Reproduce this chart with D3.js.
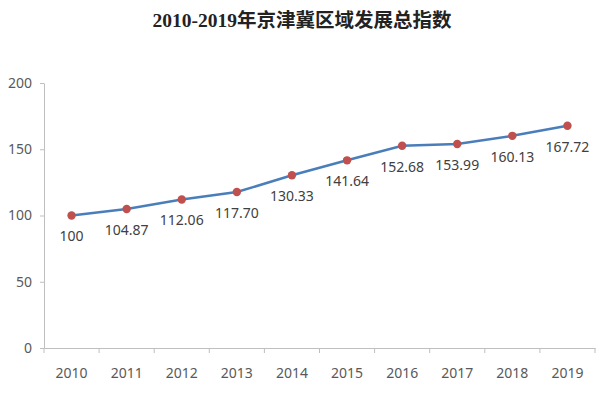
<!DOCTYPE html>
<html>
<head>
<meta charset="utf-8">
<script src="https://cdn.jsdelivr.net/npm/d3@7"></script>
<style>
  body { margin: 0; background: #fff; }
  svg { display: block; }
</style>
</head>
<body>
<div id="chart"></div>
<script>
const years  = ['2010', '2011', '2012', '2013', '2014', '2015', '2016', '2017', '2018', '2019'];
const values = [100, 104.87, 112.06, 117.70, 130.33, 141.64, 152.68, 153.99, 160.13, 167.72];
const labels = ['100', '104.87', '112.06', '117.70', '130.33', '141.64', '152.68', '153.99', '160.13', '167.72'];
const yTicks = [0, 50, 100, 150, 200];

(() => {
  const W = 600, H = 395;
  const margin = { top: 83, right: 5, bottom: 47, left: 44 };
  const width  = W - margin.left - margin.right;
  const height = H - margin.top - margin.bottom;

  const svg = d3.select('#chart')
    .append('svg')
      .attr('width', W)
      .attr('height', H);

  // title
  svg.append('text')
    .attr('x', 302)
    .attr('y', 27)
    .attr('text-anchor', 'middle')
    .attr('font-family', '"Liberation Serif", "Noto Sans CJK SC", serif')
    .attr('font-size', 19.5)
    .attr('font-weight', 'bold')
    .attr('fill', '#222')
    .text('2010-2019年京津冀区域发展总指数');

  const g = svg.append('g')
    .attr('transform', `translate(${margin.left},${margin.top})`);

  const x = d3.scaleBand()
    .domain(years)
    .range([0, width]);

  const y = d3.scaleLinear()
    .domain([0, 200])
    .range([height, 0]);

  const font = '"Noto Sans", "Open Sans", sans-serif';

  // X axis
  const xAxis = g.append('g')
    .attr('transform', `translate(0,${height})`)
    .call(d3.axisBottom(x).tickSize(0).tickPadding(25));
  xAxis.select('.domain').attr('stroke', '#bfbfbf');
  xAxis.selectAll('text')
    .attr('font-family', font)
    .attr('font-size', 14)
    .attr('fill', '#595959')
    .attr('dy', '0.35em');
  // tick marks between categories
  xAxis.selectAll('.sep')
    .data(d3.range(years.length + 1))
    .enter().append('line')
      .attr('class', 'sep')
      .attr('x1', i => i * x.step())
      .attr('x2', i => i * x.step())
      .attr('y1', 0)
      .attr('y2', 5)
      .attr('stroke', '#bfbfbf');

  // Y axis
  const yAxis = g.append('g')
    .call(d3.axisLeft(y).tickValues(yTicks).tickSize(4).tickPadding(8).tickSizeOuter(0));
  yAxis.select('.domain').attr('stroke', '#bfbfbf');
  yAxis.selectAll('line').attr('stroke', '#bfbfbf');
  yAxis.selectAll('text')
    .attr('font-family', font)
    .attr('font-size', 14)
    .attr('fill', '#595959');

  const cx = (d, i) => x(years[i]) + x.bandwidth() / 2;

  // line
  g.append('path')
    .datum(values)
    .attr('fill', 'none')
    .attr('stroke', '#4a7ebb')
    .attr('stroke-width', 2.5)
    .attr('d', d3.line().x((d, i) => cx(d, i)).y(d => y(d)));

  // markers
  g.selectAll('.dot')
    .data(values)
    .enter().append('circle')
      .attr('class', 'dot')
      .attr('cx', cx)
      .attr('cy', d => y(d))
      .attr('r', 4.2)
      .attr('fill', '#c0504d');

  // data labels
  g.selectAll('.lbl')
    .data(values)
    .enter().append('text')
      .attr('class', 'lbl')
      .attr('x', cx)
      .attr('y', d => y(d) + 21)
      .attr('dy', '0.35em')
      .attr('text-anchor', 'middle')
      .attr('font-family', font)
      .attr('font-size', 14)
      .attr('fill', '#404040')
      .text((d, i) => labels[i]);
})();
</script>
</body>
</html>
